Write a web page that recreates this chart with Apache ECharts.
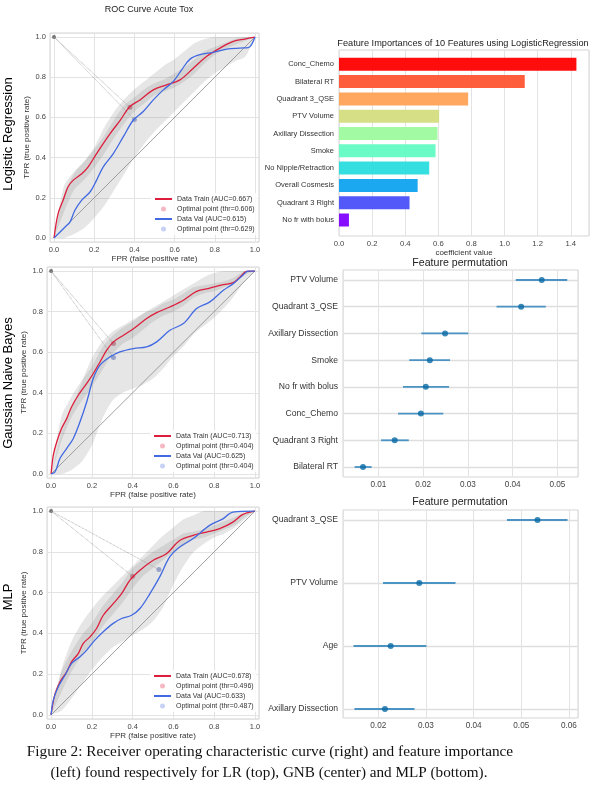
<!DOCTYPE html>
<html>
<head>
<meta charset="utf-8">
<script src="https://cdn.jsdelivr.net/npm/echarts@6/dist/echarts.min.js"></script>
<style>
  html, body { margin: 0; padding: 0; background: #fff; }
  #main { width: 600px; height: 789px; }
</style>
</head>
<body>
<div id="main"></div>
<script>
// ---- ROC curves ----
var lrTrainX = [0, 0.02, 0.046, 0.07, 0.096, 0.138, 0.17, 0.212, 0.28, 0.33, 0.378, 0.428, 0.494, 0.56, 0.627, 0.693, 0.76, 0.826, 0.892, 0.95, 1];
var lrTrainY = [0, 0.12, 0.19, 0.255, 0.288, 0.32, 0.354, 0.42, 0.52, 0.587, 0.654, 0.687, 0.737, 0.762, 0.787, 0.845, 0.904, 0.945, 0.978, 0.99, 1];
var lrValX = [0, 0.02, 0.055, 0.08, 0.104, 0.138, 0.18, 0.212, 0.245, 0.295, 0.345, 0.395, 0.444, 0.494, 0.544, 0.594, 0.635, 0.677, 0.726, 0.793, 0.859, 0.925, 0.967, 0.983, 1];
var lrValY = [0, 0.02, 0.055, 0.08, 0.138, 0.188, 0.23, 0.288, 0.354, 0.42, 0.504, 0.587, 0.629, 0.687, 0.737, 0.779, 0.837, 0.89, 0.912, 0.924, 0.94, 0.945, 0.947, 0.962, 1];

var gnbTrainX = [0, 0.011, 0.028, 0.052, 0.077, 0.101, 0.134, 0.175, 0.207, 0.24, 0.273, 0.306, 0.355, 0.404, 0.469, 0.518, 0.583, 0.649, 0.714, 0.779, 0.845, 0.894, 0.926, 0.959, 1];
var gnbTrainY = [0, 0.093, 0.159, 0.225, 0.274, 0.331, 0.389, 0.446, 0.495, 0.552, 0.61, 0.651, 0.684, 0.716, 0.766, 0.795, 0.823, 0.856, 0.9, 0.916, 0.933, 0.943, 0.97, 0.998, 1];
var gnbValX = [0, 0.02, 0.044, 0.077, 0.109, 0.142, 0.175, 0.207, 0.24, 0.289, 0.338, 0.404, 0.469, 0.518, 0.583, 0.649, 0.714, 0.779, 0.845, 0.894, 0.943, 0.967, 1];
var gnbValY = [0, 0.011, 0.077, 0.126, 0.175, 0.257, 0.356, 0.47, 0.536, 0.577, 0.602, 0.618, 0.626, 0.651, 0.708, 0.741, 0.815, 0.848, 0.905, 0.938, 0.982, 1, 1];

var mlpTrainX = [0, 0.005, 0.02, 0.044, 0.077, 0.101, 0.134, 0.158, 0.191, 0.223, 0.256, 0.305, 0.346, 0.387, 0.436, 0.501, 0.566, 0.631, 0.697, 0.762, 0.827, 0.892, 0.941, 1];
var mlpTrainY = [0, 0.035, 0.106, 0.163, 0.212, 0.261, 0.302, 0.351, 0.383, 0.424, 0.489, 0.546, 0.595, 0.661, 0.71, 0.759, 0.791, 0.856, 0.881, 0.897, 0.914, 0.946, 0.984, 1];
var mlpValX = [0, 0.011, 0.036, 0.069, 0.101, 0.142, 0.175, 0.215, 0.256, 0.305, 0.346, 0.395, 0.436, 0.485, 0.533, 0.582, 0.631, 0.697, 0.778, 0.843, 0.892, 1];
var mlpValY = [0, 0.073, 0.139, 0.196, 0.253, 0.285, 0.318, 0.367, 0.408, 0.449, 0.473, 0.489, 0.522, 0.595, 0.677, 0.775, 0.824, 0.865, 0.93, 0.962, 0.995, 1];

// std bands, sampled every 0.05 of FPR
var bandX = [0, 0.05, 0.1, 0.15, 0.2, 0.25, 0.3, 0.35, 0.4, 0.45, 0.5, 0.55, 0.6, 0.65, 0.7, 0.75, 0.8, 0.85, 0.9, 0.95, 1];
var lrValLo = [0, 0, 0.02, 0.05, 0.10, 0.16, 0.24, 0.32, 0.40, 0.47, 0.53, 0.58, 0.63, 0.68, 0.73, 0.78, 0.82, 0.85, 0.88, 0.90, 1];
var lrValHi = [0, 0.22, 0.32, 0.38, 0.45, 0.55, 0.63, 0.69, 0.74, 0.78, 0.82, 0.86, 0.89, 0.93, 0.97, 0.99, 1, 1, 1, 1, 1];
var lrTrLo = [0, 0.13, 0.24, 0.29, 0.35, 0.42, 0.50, 0.57, 0.63, 0.67, 0.71, 0.73, 0.75, 0.78, 0.82, 0.87, 0.91, 0.94, 0.96, 0.98, 1];
var lrTrHi = [0, 0.26, 0.33, 0.38, 0.44, 0.51, 0.59, 0.66, 0.70, 0.74, 0.77, 0.79, 0.82, 0.85, 0.89, 0.93, 0.95, 0.97, 0.99, 1, 1];
var gnbValLo = [0, 0, 0.02, 0.06, 0.14, 0.27, 0.36, 0.40, 0.42, 0.44, 0.47, 0.52, 0.58, 0.63, 0.69, 0.73, 0.77, 0.82, 0.88, 0.95, 1];
var gnbValHi = [0, 0.20, 0.32, 0.45, 0.57, 0.65, 0.70, 0.73, 0.76, 0.79, 0.82, 0.85, 0.88, 0.91, 0.94, 0.97, 0.99, 1, 1, 1, 1];
var gnbTrLo = [0, 0.16, 0.28, 0.36, 0.43, 0.51, 0.59, 0.64, 0.67, 0.71, 0.75, 0.78, 0.80, 0.83, 0.87, 0.89, 0.90, 0.92, 0.94, 0.98, 1];
var gnbTrHi = [0, 0.28, 0.38, 0.46, 0.53, 0.62, 0.68, 0.72, 0.75, 0.79, 0.81, 0.84, 0.86, 0.89, 0.92, 0.93, 0.94, 0.95, 0.97, 1, 1];
var mlpValLo = [0, 0.02, 0.08, 0.15, 0.22, 0.28, 0.33, 0.36, 0.39, 0.42, 0.46, 0.53, 0.64, 0.73, 0.80, 0.84, 0.87, 0.89, 0.92, 0.96, 1];
var mlpValHi = [0, 0.22, 0.36, 0.45, 0.52, 0.58, 0.63, 0.68, 0.73, 0.78, 0.83, 0.88, 0.92, 0.96, 0.98, 1, 1, 1, 1, 1, 1];
var mlpTrLo = [0, 0.11, 0.21, 0.29, 0.35, 0.43, 0.49, 0.55, 0.62, 0.68, 0.72, 0.76, 0.80, 0.83, 0.86, 0.87, 0.89, 0.91, 0.93, 0.97, 1];
var mlpTrHi = [0, 0.21, 0.31, 0.39, 0.45, 0.53, 0.59, 0.65, 0.72, 0.76, 0.80, 0.83, 0.86, 0.89, 0.90, 0.91, 0.93, 0.95, 0.97, 0.99, 1];

// optimal points [fpr, tpr]
var lrOptTrain = [0.378, 0.65], lrOptVal = [0.4, 0.59];
var gnbOptTrain = [0.306, 0.643], gnbOptVal = [0.306, 0.574];
var mlpOptTrain = [0.4, 0.68], mlpOptVal = [0.529, 0.713];
var perfectPoint = [0, 1];
var chanceLine = [0, 1];

var lrLegend = ['Data Train (AUC=0.667)', 'Optimal point (thr=0.606)', 'Data Val (AUC=0.615)', 'Optimal point (thr=0.629)'];
var gnbLegend = ['Data Train (AUC=0.713)', 'Optimal point (thr=0.404)', 'Data Val (AUC=0.625)', 'Optimal point (thr=0.404)'];
var mlpLegend = ['Data Train (AUC=0.678)', 'Optimal point (thr=0.496)', 'Data Val (AUC=0.633)', 'Optimal point (thr=0.487)'];

// ---- feature importances ----
var featNames = ['Conc_Chemo', 'Bilateral RT', 'Quadrant 3_QSE', 'PTV Volume', 'Axillary Dissection', 'Smoke', 'No Nipple/Retraction', 'Overall Cosmesis', 'Quadrant 3 Right', 'No fr with bolus'];
var featCoef = [1.434, 1.122, 0.780, 0.605, 0.595, 0.583, 0.545, 0.475, 0.426, 0.060];

var perm1Names = ['PTV Volume', 'Quadrant 3_QSE', 'Axillary Dissection', 'Smoke', 'No fr with bolus', 'Conc_Chemo', 'Quadrant 3 Right', 'Bilateral RT'];
var perm1Mean = [0.0465, 0.0419, 0.0249, 0.0215, 0.0206, 0.0195, 0.01365, 0.00657];
var perm1Lo = [0.0407, 0.0364, 0.0196, 0.0169, 0.0155, 0.0144, 0.0106, 0.0047];
var perm1Hi = [0.0522, 0.0474, 0.0301, 0.0260, 0.0258, 0.0245, 0.0168, 0.0085];

var perm2Names = ['Quadrant 3_QSE', 'PTV Volume', 'Age', 'Axillary Dissection'];
var perm2Mean = [0.0534, 0.0286, 0.0226, 0.0214];
var perm2Lo = [0.0470, 0.0210, 0.0148, 0.0150];
var perm2Hi = [0.0597, 0.0362, 0.0301, 0.0276];

// rainbow colormap, one per bar
var rainbow = ['#ff0000', '#ff5533', '#ffa256', '#d4dd80', '#9dfa9d', '#62fbc4', '#2adddd', '#10a2f0', '#4a50f8', '#8000ff'];

var FONT = 'Liberation Sans, Arial, sans-serif';
var SERIF = 'Liberation Serif, Times New Roman, serif';
var GRID_LINE = '#e3e3e3';
var FRAME = '#d5d5d5';
var RED = '#dc1e3c';
var BLUE = '#4169e1';

function zip(xs, ys) {
    return xs.map(function (x, i) { return [x, ys[i]]; });
}

function fmtStep(step, digits) {
    return function (v) {
        var k = v / step;
        return Math.abs(k - Math.round(k)) < 1e-6 ? (Math.round(k) * step).toFixed(digits) : '';
    };
}

function bandSeries(gi, xs, lo, hi) {
    return {
        type: 'custom',
        xAxisIndex: gi, yAxisIndex: gi,
        silent: true,
        data: xs.map(function (x, i) { return [x, lo[i], hi[i]]; }),
        encode: { x: 0, y: [1, 2] },
        renderItem: function (params, api) {
            if (params.dataIndex !== 0) return null;
            var pts = [];
            for (var i = 0; i < xs.length; i++) pts.push(api.coord([xs[i], hi[i]]));
            for (var j = xs.length - 1; j >= 0; j--) pts.push(api.coord([xs[j], lo[j]]));
            return {
                type: 'polygon',
                shape: { points: pts, smooth: 0.25 },
                style: { fill: 'rgba(128,128,128,0.2)' }
            };
        }
    };
}

var legendText = {};

function rocSeries(key, gi, m) {
    var names = [key + ' train', key + ' train opt', key + ' val', key + ' val opt'];
    names.forEach(function (n, i) { legendText[n] = m.legend[i]; });
    return [
        bandSeries(gi, bandX, m.valLo, m.valHi),
        bandSeries(gi, bandX, m.trLo, m.trHi),
        {
            type: 'line', xAxisIndex: gi, yAxisIndex: gi, silent: true,
            data: zip(chanceLine, chanceLine), symbol: 'none',
            lineStyle: { color: '#8a8a8a', width: 0.8 }
        },
        {
            type: 'line', xAxisIndex: gi, yAxisIndex: gi, silent: true,
            data: [perfectPoint, m.optTrain], symbol: 'none',
            lineStyle: { color: '#9a9a9a', width: 0.8, type: 'dotted' }
        },
        {
            type: 'line', xAxisIndex: gi, yAxisIndex: gi, silent: true,
            data: [perfectPoint, m.optVal], symbol: 'none',
            lineStyle: { color: '#9a9a9a', width: 0.8, type: 'dotted' }
        },
        {
            name: names[0], type: 'line', xAxisIndex: gi, yAxisIndex: gi,
            data: zip(m.trainX, m.trainY), symbol: 'none', smooth: 0.35,
            lineStyle: { color: RED, width: 1.3 }, itemStyle: { color: RED }
        },
        {
            name: names[2], type: 'line', xAxisIndex: gi, yAxisIndex: gi,
            data: zip(m.valX, m.valY), symbol: 'none', smooth: 0.35,
            lineStyle: { color: BLUE, width: 1.3 }, itemStyle: { color: BLUE }
        },
        {
            name: names[1], type: 'scatter', xAxisIndex: gi, yAxisIndex: gi,
            data: [m.optTrain], symbolSize: 5,
            itemStyle: { color: 'rgba(170,90,110,0.8)' }
        },
        {
            name: names[3], type: 'scatter', xAxisIndex: gi, yAxisIndex: gi,
            data: [m.optVal], symbolSize: 5,
            itemStyle: { color: 'rgba(110,125,185,0.8)' }
        },
        {
            type: 'scatter', xAxisIndex: gi, yAxisIndex: gi, silent: true,
            data: [perfectPoint], symbolSize: 4,
            itemStyle: { color: '#555' }
        }
    ];
}

function rocLegend(key, left, top) {
    var hideSymbol = { opacity: 0, borderWidth: 0 };
    return {
        orient: 'vertical', left: left, top: top,
        itemWidth: 17, itemHeight: 5, itemGap: 2, itemTextGap: 3,
        padding: [2, 3],
        backgroundColor: 'rgba(255,255,255,0.8)',
        selectedMode: false,
        textStyle: { fontSize: 7, color: '#333', lineHeight: 8, fontFamily: FONT },
        data: [
            { name: key + ' train', itemStyle: hideSymbol },
            { name: key + ' train opt', itemStyle: { color: '#f2a7b5' } },
            { name: key + ' val', itemStyle: hideSymbol },
            { name: key + ' val opt', itemStyle: { color: '#b9c6f2' } }
        ],
        formatter: function (n) { return legendText[n]; }
    };
}

function rocAxes(gi) {
    var label = { fontSize: 7.5, color: '#444', margin: 4, formatter: fmtStep(0.2, 1) };
    return {
        x: {
            type: 'value', gridIndex: gi, min: -0.02, max: 1.02, splitNumber: 5,
            axisLine: { show: false }, axisTick: { show: false }, axisLabel: label,
            splitLine: { lineStyle: { color: GRID_LINE } },
            name: 'FPR (false positive rate)', nameLocation: 'middle', nameGap: 12,
            nameTextStyle: { fontSize: 8, color: '#333' }
        },
        y: {
            type: 'value', gridIndex: gi, min: -0.02, max: 1.02, splitNumber: 5,
            axisLine: { show: false }, axisTick: { show: false }, axisLabel: label,
            splitLine: { lineStyle: { color: GRID_LINE } },
            name: 'TPR (true positive rate)', nameLocation: 'middle', nameGap: 19,
            nameTextStyle: { fontSize: 8, color: '#333' }
        }
    };
}

function valueFrameAxes(gi, min, max, fmt, labelSize, extra) {
    var x = {
        type: 'value', gridIndex: gi, min: min, max: max,
        axisLine: { show: false }, axisTick: { show: false },
        axisLabel: { fontSize: labelSize, color: '#444', margin: 4, formatter: fmt },
        splitLine: { lineStyle: { color: GRID_LINE } }
    };
    for (var k in extra) x[k] = extra[k];
    return {
        x: x,
        y: { type: 'value', gridIndex: gi, show: false, splitLine: { show: false } }
    };
}

function innerAxes(gi, min, max, cats, labelSize, boundaryGap, splitLine) {
    return {
        x: { type: 'value', gridIndex: gi, min: min, max: max, show: false, splitLine: { show: false } },
        y: {
            type: 'category', gridIndex: gi, data: cats, inverse: true, boundaryGap: boundaryGap,
            axisLine: { show: false }, axisTick: { show: false },
            axisLabel: { fontSize: labelSize, color: '#333', margin: 5 },
            splitLine: { show: splitLine, lineStyle: { color: '#dedede', width: 1.4 } }
        }
    };
}

function errorSeries(gi, lo, hi) {
    return {
        type: 'custom', xAxisIndex: gi, yAxisIndex: gi, silent: true,
        data: lo.map(function (v, i) { return [v, hi[i], i]; }),
        encode: { x: [0, 1], y: 2 },
        renderItem: function (params, api) {
            var a = api.coord([api.value(0), api.value(2)]);
            var b = api.coord([api.value(1), api.value(2)]);
            return {
                type: 'line',
                shape: { x1: a[0], y1: a[1], x2: b[0], y2: b[1] },
                style: { stroke: '#4a93c2', lineWidth: 1.8 }
            };
        }
    };
}

function pointSeries(gi, mean) {
    return {
        type: 'scatter', xAxisIndex: gi, yAxisIndex: gi, silent: true,
        data: mean.map(function (v, i) { return [v, i]; }),
        symbolSize: 6,
        itemStyle: { color: '#0a6aa5' }
    };
}

function label(text, x, y, size, opts) {
    opts = opts || {};
    return {
        type: 'text', x: x, y: y, rotation: opts.rotation || 0, silent: true,
        style: {
            text: text, fontSize: size, fontFamily: opts.family || FONT,
            fill: opts.color || '#222',
            align: 'center', verticalAlign: 'middle',
            textAlign: 'center', textVerticalAlign: 'middle'
        }
    };
}

var myChart = echarts.init(document.getElementById('main'));

var grids = [
    { left: 50, top: 33, width: 209, height: 209 },     // 0 LR roc
    { left: 47, top: 267, width: 212, height: 211 },    // 1 GNB roc
    { left: 47, top: 507, width: 212, height: 212 },    // 2 MLP roc
    { left: 339, top: 50, width: 250, height: 186 },    // 3 bar frame
    { left: 339, top: 55.65, width: 250, height: 173 }, // 4 bars
    { left: 343, top: 270, width: 235, height: 207 },   // 5 perm1 frame
    { left: 343, top: 280, width: 235, height: 187 },   // 6 perm1 points
    { left: 343, top: 510, width: 235, height: 208 },   // 7 perm2 frame
    { left: 343, top: 520, width: 235, height: 189 }    // 8 perm2 points
];
grids.forEach(function (g, i) {
    var framed = [0, 1, 2, 3, 5, 7].indexOf(i) >= 0;
    g.show = framed;
    g.borderColor = FRAME;
    g.borderWidth = 1;
    g.backgroundColor = 'transparent';
});

var axes = [
    rocAxes(0), rocAxes(1), rocAxes(2),
    valueFrameAxes(3, 0, 1.51, fmtStep(0.2, 1), 7.7, {
        interval: 0.2, name: 'coefficient value', nameLocation: 'middle', nameGap: 12,
        nameTextStyle: { fontSize: 8, color: '#333' }
    }),
    innerAxes(4, 0, 1.51, featNames, 7.5, true, false),
    valueFrameAxes(5, 0.0021, 0.0546, fmtStep(0.01, 2), 8.2, {}),
    innerAxes(6, 0.0021, 0.0546, perm1Names, 8.6, false, true),
    valueFrameAxes(7, 0.0126, 0.0619, fmtStep(0.01, 2), 8.2, {}),
    innerAxes(8, 0.0126, 0.0619, perm2Names, 8.6, false, true)
];

var series = [].concat(
    rocSeries('LR', 0, {
        trainX: lrTrainX, trainY: lrTrainY, valX: lrValX, valY: lrValY,
        valLo: lrValLo, valHi: lrValHi, trLo: lrTrLo, trHi: lrTrHi,
        optTrain: lrOptTrain, optVal: lrOptVal, legend: lrLegend
    }),
    rocSeries('GNB', 1, {
        trainX: gnbTrainX, trainY: gnbTrainY, valX: gnbValX, valY: gnbValY,
        valLo: gnbValLo, valHi: gnbValHi, trLo: gnbTrLo, trHi: gnbTrHi,
        optTrain: gnbOptTrain, optVal: gnbOptVal, legend: gnbLegend
    }),
    rocSeries('MLP', 2, {
        trainX: mlpTrainX, trainY: mlpTrainY, valX: mlpValX, valY: mlpValY,
        valLo: mlpValLo, valHi: mlpValHi, trLo: mlpTrLo, trHi: mlpTrHi,
        optTrain: mlpOptTrain, optVal: mlpOptVal, legend: mlpLegend
    }),
    [{
        type: 'bar', xAxisIndex: 4, yAxisIndex: 4, barWidth: 13, silent: true,
        data: featCoef.map(function (v, i) {
            return { value: v, itemStyle: { color: rainbow[i], opacity: 0.95 } };
        })
    }],
    [errorSeries(6, perm1Lo, perm1Hi), pointSeries(6, perm1Mean)],
    [errorSeries(8, perm2Lo, perm2Hi), pointSeries(8, perm2Mean)]
);

var option = {
    animation: false,
    backgroundColor: '#fff',
    textStyle: { fontFamily: FONT },
    grid: grids,
    xAxis: axes.map(function (a) { return a.x; }),
    yAxis: axes.map(function (a) { return a.y; }),
    legend: [rocLegend('LR', 151, 193), rocLegend('GNB', 150, 430), rocLegend('MLP', 150, 670)],
    series: series,
    graphic: [
        label('ROC Curve Acute Tox', 149, 10, 9),
        label('Logistic Regression', 8, 134, 13, { rotation: Math.PI / 2, color: '#000' }),
        label('Gaussian Naive Bayes', 8, 383, 13, { rotation: Math.PI / 2, color: '#000' }),
        label('MLP', 8, 597, 13, { rotation: Math.PI / 2, color: '#000' }),
        label('Feature Importances of 10 Features using LogisticRegression', 463, 43, 9.2),
        label('Feature permutation', 460, 263, 10.6),
        label('Feature permutation', 460, 502, 10.6),
        label('Figure 2: Receiver operating characteristic curve (right) and feature importance', 270, 752, 15.3,
            { family: SERIF, color: '#111' }),
        label('(left) found respectively for LR (top), GNB (center) and MLP (bottom).', 269, 773, 15.2,
            { family: SERIF, color: '#111' })
    ]
};

myChart.setOption(option, true);
</script>
</body>
</html>
